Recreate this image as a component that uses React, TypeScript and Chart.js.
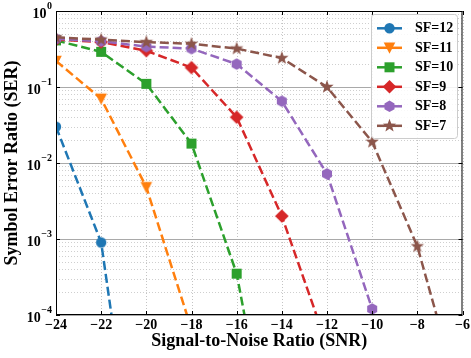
import React, { useEffect, useRef } from 'react';
import { Chart, registerables } from 'chart.js';

Chart.register(...registerables);

// ---- data ----
const SNR = [-24, -22, -20, -18, -16, -14, -12, -10, -8, -6];
const SER_SF12 = [0.03, 9.0e-4, 6e-8, null, null, null, null, null, null, null];
const SER_SF11 = [0.22, 0.07, 4.8e-3, 6.5e-5, null, null, null, null, null, null];
const SER_SF10 = [0.41, 0.29, 0.11, 0.018, 3.5e-4, 2.5e-7, null, null, null, null];
const SER_SF9 = [0.42, 0.39, 0.30, 0.18, 0.040, 2.0e-3, 4.0e-5, null, null, null];
const SER_SF8 = [0.43, 0.40, 0.34, 0.32, 0.20, 0.065, 7.2e-3, 1.2e-4, null, null];
const SER_SF7 = [0.45, 0.42, 0.39, 0.37, 0.32, 0.24, 0.10, 0.019, 8.0e-4, 6.0e-6];
const SERIES_LABELS = ['SF=12', 'SF=11', 'SF=10', 'SF=9', 'SF=8', 'SF=7'];
const X_TICKS = [-24, -22, -20, -18, -16, -14, -12, -10, -8, -6];
const Y_DECADES = [0, -1, -2, -3, -4];
const X_TITLE = 'Signal-to-Noise Ratio (SNR)';
const Y_TITLE = 'Symbol Error Ratio (SER)';

const SERIES = [SER_SF12, SER_SF11, SER_SF10, SER_SF9, SER_SF8, SER_SF7];

// ---- styles ----
const FONT = "'Liberation Serif', 'Times New Roman', Times, serif";
const COLORS = ['#1f77b4', '#ff7f0e', '#2ca02c', '#d62728', '#9467bd', '#8c564b'];
const MARKERS = ['circle', 'triangleDown', 'square', 'diamond', 'hexagon', 'star'];

function markerPath(ctx: CanvasRenderingContext2D, shape: string, cx: number, cy: number) {
  ctx.beginPath();
  if (shape === 'circle') {
    ctx.arc(cx, cy, 5.2, 0, Math.PI * 2);
  } else if (shape === 'triangleDown') {
    ctx.moveTo(cx - 5.8, cy - 5.2);
    ctx.lineTo(cx + 5.8, cy - 5.2);
    ctx.lineTo(cx, cy + 6);
    ctx.closePath();
  } else if (shape === 'square') {
    ctx.rect(cx - 5, cy - 5, 10, 10);
  } else if (shape === 'diamond') {
    ctx.moveTo(cx, cy - 6.8);
    ctx.lineTo(cx + 6.8, cy);
    ctx.lineTo(cx, cy + 6.8);
    ctx.lineTo(cx - 6.8, cy);
    ctx.closePath();
  } else if (shape === 'hexagon') {
    for (let i = 0; i < 6; i++) {
      const a = -Math.PI / 2 + (i * Math.PI) / 3;
      const px = cx + 5.8 * Math.cos(a);
      const py = cy + 5.8 * Math.sin(a);
      if (i === 0) ctx.moveTo(px, py);
      else ctx.lineTo(px, py);
    }
    ctx.closePath();
  } else if (shape === 'star') {
    for (let i = 0; i < 10; i++) {
      const r = i % 2 === 0 ? 7 : 2.9;
      const a = -Math.PI / 2 + (i * Math.PI) / 5;
      const px = cx + r * Math.cos(a);
      const py = cy + r * Math.sin(a);
      if (i === 0) ctx.moveTo(px, py);
      else ctx.lineTo(px, py);
    }
    ctx.closePath();
  }
}

function makeMarkerImage(shape: string, color: string) {
  const c = document.createElement('canvas');
  c.width = 18;
  c.height = 18;
  const g = c.getContext('2d')!;
  markerPath(g, shape, 9, 9);
  g.fillStyle = color;
  g.fill();
  return c;
}

const decorPlugin = {
  id: 'decor',
  beforeDatasetsDraw(chart: any) {
    const { ctx, chartArea: a, scales } = chart;
    const xs = scales.x;
    const ys = scales.y;
    ctx.save();
    ctx.lineWidth = 1;
    const hline = (py: number) => {
      ctx.beginPath();
      ctx.moveTo(a.left, py);
      ctx.lineTo(a.right, py);
      ctx.stroke();
    };
    // minor horizontal dotted grid
    ctx.strokeStyle = '#cfcfcf';
    ctx.setLineDash([1, 2]);
    for (const k of Y_DECADES) {
      if (k === 0) continue;
      for (let m = 2; m <= 9; m++) {
        hline(Math.round(ys.getPixelForValue(m * Math.pow(10, k))) + 0.5);
      }
    }
    // vertical dotted grid at major x ticks
    ctx.strokeStyle = '#c4c4c4';
    for (const t of X_TICKS) {
      const px = Math.round(xs.getPixelForValue(t)) + 0.5;
      ctx.beginPath();
      ctx.moveTo(px, a.top);
      ctx.lineTo(px, a.bottom);
      ctx.stroke();
    }
    // major horizontal solid grid
    ctx.setLineDash([]);
    ctx.strokeStyle = '#a9a9a9';
    for (const k of Y_DECADES) {
      hline(Math.round(ys.getPixelForValue(Math.pow(10, k))) + 0.5);
    }
    ctx.restore();
  },
  afterDatasetsDraw(chart: any) {
    const { ctx, chartArea: a, scales } = chart;
    const xs = scales.x;
    const ys = scales.y;
    ctx.save();
    // frame
    ctx.strokeStyle = '#000';
    ctx.lineWidth = 1;
    ctx.setLineDash([]);
    ctx.strokeRect(a.left + 0.5, a.top + 0.5, a.right - a.left - 1, a.bottom - a.top - 1);
    // inward ticks
    ctx.beginPath();
    for (const t of X_TICKS) {
      const px = Math.round(xs.getPixelForValue(t)) + 0.5;
      ctx.moveTo(px, a.bottom);
      ctx.lineTo(px, a.bottom - 4);
      ctx.moveTo(px, a.top);
      ctx.lineTo(px, a.top + 4);
    }
    for (const k of Y_DECADES) {
      const py = Math.round(ys.getPixelForValue(Math.pow(10, k))) + 0.5;
      ctx.moveTo(a.left, py);
      ctx.lineTo(a.left + 4, py);
      ctx.moveTo(a.right, py);
      ctx.lineTo(a.right - 4, py);
    }
    ctx.stroke();

    // y tick labels: 10 with superscript exponent
    ctx.fillStyle = '#000';
    ctx.textBaseline = 'alphabetic';
    ctx.textAlign = 'left';
    for (const k of Y_DECADES) {
      const py = ys.getPixelForValue(Math.pow(10, k));
      const sup = k === 0 ? '0' : '\u2212' + Math.abs(k);
      ctx.font = `bold 10px ${FONT}`;
      const supW = ctx.measureText(sup).width;
      ctx.font = `bold 14px ${FONT}`;
      const baseW = ctx.measureText('10').width;
      const right = a.left - 4;
      const supX = right - supW;
      ctx.fillText('10', supX - baseW - 0.5, py + 6.7);
      ctx.font = `bold 10px ${FONT}`;
      ctx.fillText(sup, supX, py - 1.6);
    }

    // legend
    const bx = 371.5, by = 14.5, bw = 86, bh = 124, r = 3;
    ctx.beginPath();
    ctx.moveTo(bx + r, by);
    ctx.lineTo(bx + bw - r, by);
    ctx.arcTo(bx + bw, by, bx + bw, by + r, r);
    ctx.lineTo(bx + bw, by + bh - r);
    ctx.arcTo(bx + bw, by + bh, bx + bw - r, by + bh, r);
    ctx.lineTo(bx + r, by + bh);
    ctx.arcTo(bx, by + bh, bx, by + bh - r, r);
    ctx.lineTo(bx, by + r);
    ctx.arcTo(bx, by, bx + r, by, r);
    ctx.closePath();
    ctx.fillStyle = 'rgba(255,255,255,0.85)';
    ctx.fill();
    ctx.strokeStyle = '#cccccc';
    ctx.lineWidth = 1;
    ctx.stroke();

    SERIES_LABELS.forEach((label, i) => {
      const cy = 28.3 + 19.5 * i;
      ctx.strokeStyle = COLORS[i];
      ctx.lineWidth = 2.5;
      ctx.beginPath();
      ctx.moveTo(377, cy);
      ctx.lineTo(402, cy);
      ctx.stroke();
      markerPath(ctx, MARKERS[i], 389.5, cy);
      ctx.fillStyle = COLORS[i];
      ctx.fill();
      ctx.fillStyle = '#000';
      ctx.font = `bold 14px ${FONT}`;
      ctx.textBaseline = 'middle';
      ctx.textAlign = 'left';
      ctx.fillText(label, 415, cy + 0.5);
    });
    ctx.restore();
  },
};

export default function App() {
  const canvasRef = useRef<HTMLCanvasElement | null>(null);

  useEffect(() => {
    document.body.style.margin = '0';
    const canvas = canvasRef.current;
    if (!canvas) return;
    const images = MARKERS.map((m, i) => makeMarkerImage(m, COLORS[i]));
    const chart = new Chart(canvas, {
      type: 'line',
      data: {
        datasets: SERIES.map((vals, i) => ({
          label: SERIES_LABELS[i],
          data: SNR.map((x, j) => (vals[j] == null ? null : { x, y: vals[j] as number })).filter(
            (p) => p !== null
          ) as any,
          borderColor: COLORS[i],
          backgroundColor: COLORS[i],
          borderWidth: 2.5,
          borderDash: [9, 4],
          pointStyle: images[i] as any,
          pointRadius: 6,
          pointHoverRadius: 6,
          tension: 0,
          fill: false,
          clip: 0 as any,
          order: 5 - i,
        })),
      },
      options: {
        animation: false,
        responsive: false,
        devicePixelRatio: 1,
        events: [],
        layout: { padding: { top: 11, right: 7, left: 0, bottom: 0 } },
        plugins: { legend: { display: false }, tooltip: { enabled: false } },
        scales: {
          x: {
            type: 'linear',
            min: -24,
            max: -6,
            afterBuildTicks: (s: any) => {
              s.ticks = X_TICKS.map((v) => ({ value: v }));
            },
            ticks: {
              font: { family: FONT, size: 14, weight: 'bold' },
              color: '#000',
              padding: 2,
              maxRotation: 0,
              autoSkip: false,
              callback: (v: any) => (Number(v) < 0 ? '\u2212' : '') + Math.abs(Number(v)),
            },
            grid: { display: false, drawTicks: false },
            border: { display: false },
            title: {
              display: true,
              text: X_TITLE,
              color: '#000',
              font: { family: FONT, size: 18, weight: 'bold' },
              padding: { top: 0, bottom: 6 },
            },
            afterFit: (s: any) => {
              s.height = 43;
              s.paddingLeft = 0;
              s.paddingRight = 0;
            },
          } as any,
          y: {
            type: 'logarithmic',
            min: 1e-4,
            max: 1,
            ticks: { display: false },
            grid: { display: false, drawTicks: false },
            border: { display: false },
            title: {
              display: true,
              text: Y_TITLE,
              color: '#000',
              font: { family: FONT, size: 18, weight: 'bold' },
              padding: { top: 2, bottom: 0 },
            },
            afterFit: (s: any) => {
              s.width = 56;
              s.paddingTop = 0;
              s.paddingBottom = 0;
            },
          } as any,
        },
      },
      plugins: [decorPlugin],
    });
    return () => chart.destroy();
  }, []);

  return (
    <div style={{ width: 471, height: 358 }}>
      <canvas ref={canvasRef} width={471} height={358} style={{ display: 'block' }} />
    </div>
  );
}
